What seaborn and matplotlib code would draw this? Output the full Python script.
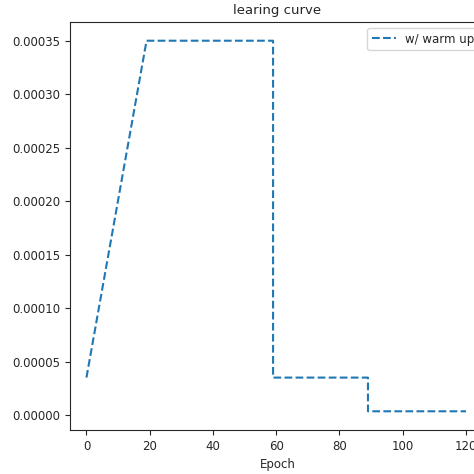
import matplotlib
matplotlib.use("Agg")
import matplotlib.pyplot as plt
import seaborn as sns
import pandas as pd

# warm up schedule breakpoints
epochs = [0, 19, 59, 59, 89, 89, 120]
lr = [0.000035, 0.00035, 0.00035, 0.000035, 0.000035, 0.0000035, 0.0000035]

sns.set_style("ticks")
plt.rcParams['font.family'] = ['DejaVu Sans']

df = pd.DataFrame({"epoch": epochs, "lr": lr})

fig = plt.figure(figsize=(4.74, 4.74), dpi=100)
ax = fig.add_axes([70 / 474, 1 - 430 / 474, (485 - 70) / 474, (430 - 22) / 474])
sns.lineplot(data=df, x="epoch", y="lr", ax=ax, sort=False, linestyle="--",
             color="#1f77b4", label="w/ warm up", estimator=None)
ax.set_xlim(-5.2, 126)
ax.set_ylim(-0.0000140, 0.0003675)
ax.set_xlabel("Epoch", fontsize=8.5)
ax.set_ylabel("")
ax.set_title("learing curve", fontsize=9.5)
ax.tick_params(labelsize=8.5)
ax.set_yticks([i * 0.00005 for i in range(8)])
ax.set_yticklabels([f"{i * 0.00005:.5f}" for i in range(8)])
ax.legend(loc="upper right", fontsize=8.5)
fig.savefig("out.png", dpi=100)
